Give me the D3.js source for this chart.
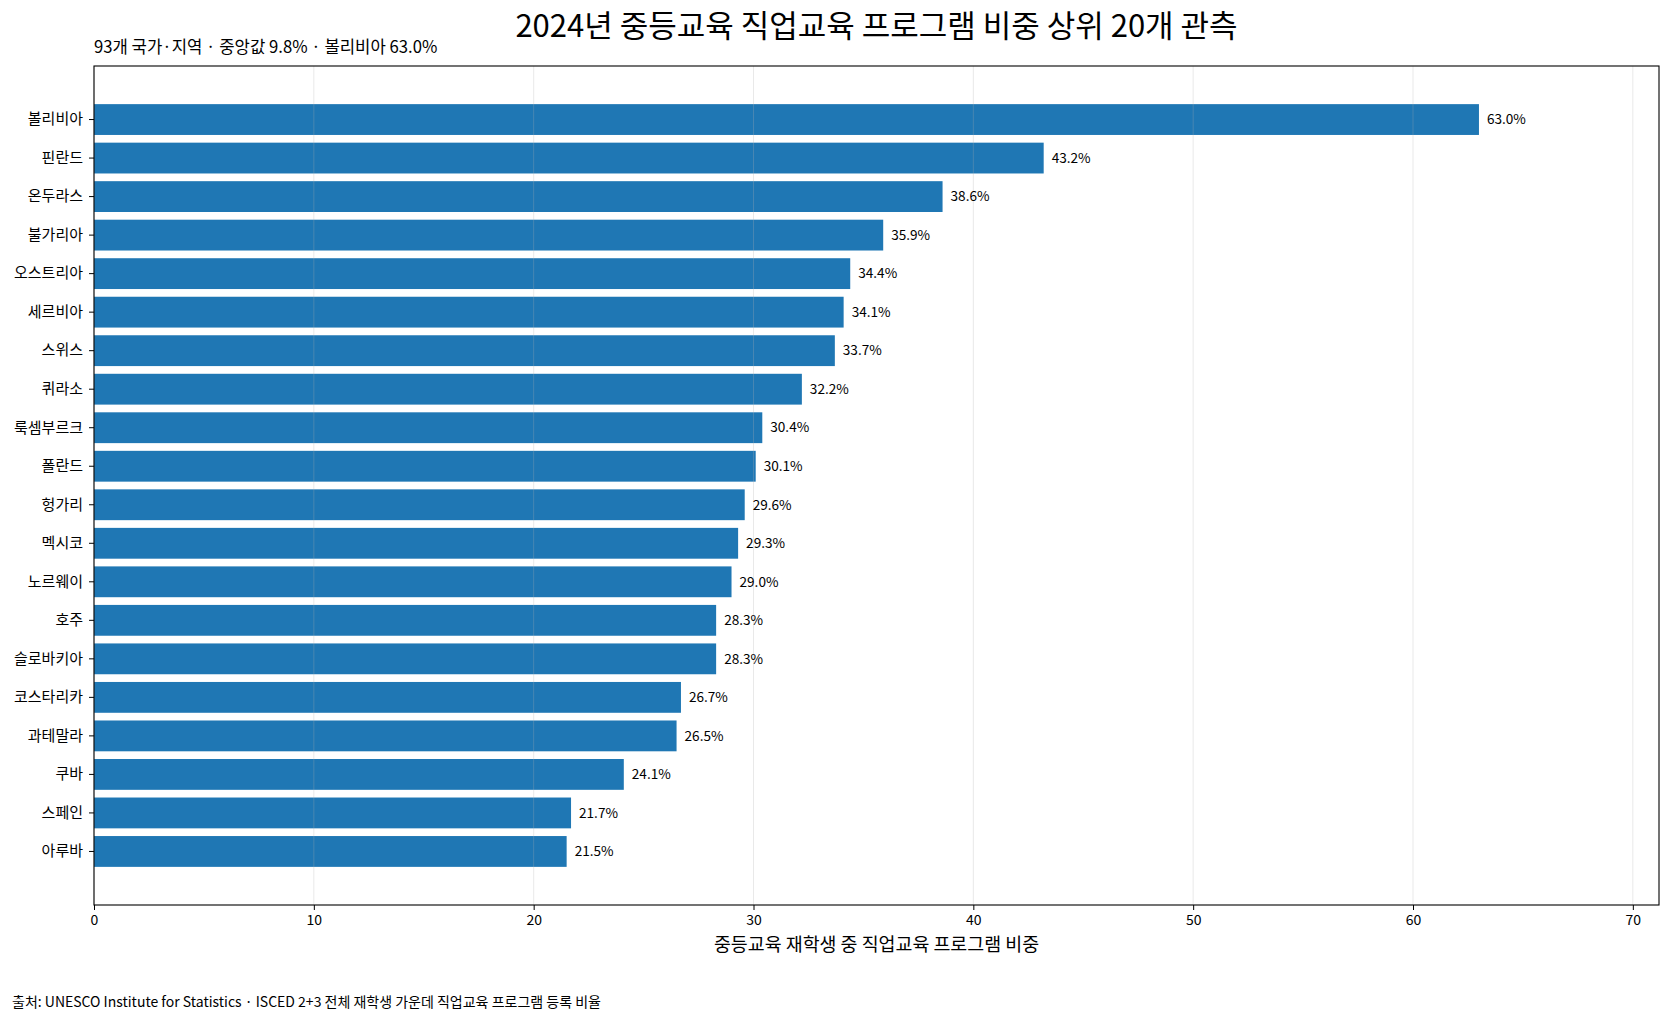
<!DOCTYPE html>
<html>
<head>
<meta charset="utf-8">
<script src="https://cdn.jsdelivr.net/npm/d3@7"></script>
<style>
  html, body { margin: 0; padding: 0; background: #fff; }
  text { font-family: "Noto Sans CJK KR", "Noto Sans", sans-serif; fill: #000; }
</style>
</head>
<body>
<div id="chart"></div>
<script>
// Top 20 vocational share in secondary education, 2024
const countries = [
  '볼리비아', '핀란드', '온두라스', '불가리아', '오스트리아',
  '세르비아', '스위스', '퀴라소', '룩셈부르크', '폴란드',
  '헝가리', '멕시코', '노르웨이', '호주', '슬로바키아',
  '코스타리카', '과테말라', '쿠바', '스페인', '아루바'
];
const shares = [
  63.0, 43.2, 38.6, 35.9, 34.4,
  34.1, 33.7, 32.2, 30.4, 30.1,
  29.6, 29.3, 29.0, 28.3, 28.3,
  26.7, 26.5, 24.1, 21.7, 21.5
];
const xTicks = [0, 10, 20, 30, 40, 50, 60, 70];

const titleText = '2024년 중등교육 직업교육 프로그램 비중 상위 20개 관측';
const subtitleText = '93개 국가·지역 · 중앙값 9.8% · 볼리비아 63.0%';
const xLabelText = '중등교육 재학생 중 직업교육 프로그램 비중';
const sourceText = '출처: UNESCO Institute for Statistics · ISCED 2+3 전체 재학생 가운데 직업교육 프로그램 등록 비율';

const width = 1669, height = 1022;
const margin = { top: 66, right: 10, bottom: 117, left: 94 };
const innerWidth = width - margin.left - margin.right;
const innerHeight = height - margin.top - margin.bottom;

const data = countries.map((c, i) => ({ country: c, value: shares[i] }));

const svg = d3.select('#chart')
  .append('svg')
  .attr('width', width)
  .attr('height', height)
  .attr('viewBox', `0 0 ${width} ${height}`);

const g = svg.append('g')
  .attr('transform', `translate(${margin.left}, ${margin.top})`);

// scales (x limit a bit past the max, like the source)
const xScale = d3.scaleLinear()
  .domain([0, d3.max(shares) * 1.13])
  .range([0, innerWidth]);

const yScale = d3.scaleBand()
  .domain(countries)
  .range([0, innerHeight])
  .paddingInner(0.2)
  .paddingOuter(0.99);

// bars
g.selectAll('rect.bar')
  .data(data)
  .join('rect')
  .attr('class', 'bar')
  .attr('x', 0)
  .attr('y', d => yScale(d.country))
  .attr('width', d => xScale(d.value))
  .attr('height', yScale.bandwidth())
  .attr('fill', '#1f77b4');

// vertical grid, drawn faintly over bars
g.append('g')
  .attr('class', 'grid')
  .selectAll('line')
  .data(xTicks)
  .join('line')
  .attr('x1', d => xScale(d))
  .attr('x2', d => xScale(d))
  .attr('y1', 0)
  .attr('y2', innerHeight)
  .attr('stroke', '#b0b0b0')
  .attr('stroke-opacity', 0.28)
  .attr('stroke-width', 1);

// value labels
g.selectAll('text.value')
  .data(data)
  .join('text')
  .attr('class', 'value')
  .attr('x', d => xScale(d.value) + 8)
  .attr('y', d => yScale(d.country) + yScale.bandwidth() / 2)
  .attr('dy', '0.35em')
  .attr('font-size', 13.6)
  .text(d => d.value.toFixed(1) + '%');

// x axis
const xAxis = g.append('g')
  .attr('class', 'x-axis')
  .attr('transform', `translate(0, ${innerHeight})`)
  .call(d3.axisBottom(xScale).tickValues(xTicks).tickSize(5).tickPadding(5).tickFormat(d3.format('d')));
xAxis.select('.domain').remove();
xAxis.selectAll('line').attr('stroke', '#000');
xAxis.selectAll('text').attr('font-size', 14).style('font-family', '"Noto Sans CJK KR", sans-serif');

// y axis
const yAxis = g.append('g')
  .attr('class', 'y-axis')
  .call(d3.axisLeft(yScale).tickSize(5).tickPadding(6));
yAxis.select('.domain').remove();
yAxis.selectAll('line').attr('stroke', '#000');
yAxis.selectAll('text').attr('font-size', 15).style('font-family', '"Noto Sans CJK KR", sans-serif');

// frame
g.append('rect')
  .attr('x', 0)
  .attr('y', 0)
  .attr('width', innerWidth)
  .attr('height', innerHeight)
  .attr('fill', 'none')
  .attr('stroke', '#000')
  .attr('stroke-width', 1.1);

// titles
svg.append('text')
  .attr('x', margin.left + innerWidth / 2)
  .attr('y', 37)
  .attr('text-anchor', 'middle')
  .attr('font-size', 31)
  .text(titleText);

svg.append('text')
  .attr('x', margin.left)
  .attr('y', 53)
  .attr('font-size', 16.7)
  .text(subtitleText);

svg.append('text')
  .attr('x', margin.left + innerWidth / 2)
  .attr('y', 951)
  .attr('text-anchor', 'middle')
  .attr('font-size', 18.4)
  .text(xLabelText);

svg.append('text')
  .attr('x', 12)
  .attr('y', 1007)
  .attr('font-size', 14)
  .text(sourceText);
</script>
</body>
</html>
